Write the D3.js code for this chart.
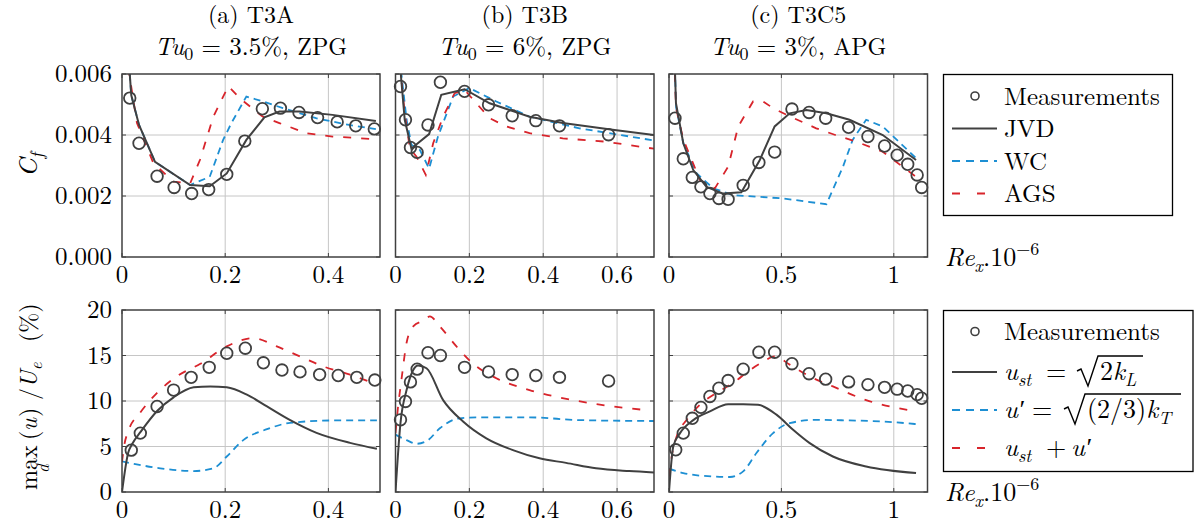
<!DOCTYPE html>
<html>
<head>
<meta charset="utf-8">
<script src="https://cdn.jsdelivr.net/npm/d3@7"></script>
<style>
  body { margin: 0; background: #fff; }
</style>
</head>
<body>
<div id="svgdiv"></div>
<script>
// ---- data: [Re_x * 1e-6, value] ----
// (a) T3A, skin friction
var t3aCfMeas = [[0.015,0.00521],[0.033,0.00373],[0.068,0.00265],[0.101,0.00228],[0.135,0.00208],[0.168,0.00221],[0.203,0.00271],[0.238,0.0038],[0.272,0.00486],[0.307,0.00488],[0.343,0.00474],[0.379,0.00457],[0.417,0.00443],[0.453,0.0043],[0.489,0.0042]];
var t3aCfJVD = [[0.012,0.0068],[0.015,0.006],[0.018,0.0053],[0.033,0.00433],[0.064,0.00312],[0.132,0.00236],[0.170,0.00232],[0.203,0.00274],[0.241,0.00384],[0.276,0.00458],[0.305,0.00477],[0.344,0.00477],[0.408,0.00466],[0.492,0.00446]];
var t3aCfWC = [[0.012,0.0068],[0.015,0.006],[0.018,0.0053],[0.033,0.00433],[0.064,0.00312],[0.132,0.00236],[0.170,0.00263],[0.196,0.00384],[0.212,0.00439],[0.241,0.00526],[0.273,0.0051],[0.312,0.00488],[0.376,0.00455],[0.44,0.00433],[0.492,0.00419]];
var t3aCfAGS = [[0.012,0.0068],[0.014,0.006],[0.029,0.00439],[0.061,0.00307],[0.1,0.00247],[0.132,0.00241],[0.151,0.00318],[0.177,0.0046],[0.206,0.0056],[0.228,0.00521],[0.273,0.0046],[0.305,0.00439],[0.357,0.00406],[0.408,0.00395],[0.492,0.00386]];
// (a) T3A, max velocity fluctuation (%)
var t3aUMeas = [[0.018,4.6],[0.0355,6.47],[0.068,9.4],[0.1,11.2],[0.134,12.6],[0.169,13.7],[0.203,15.25],[0.239,15.8],[0.274,14.2],[0.31,13.4],[0.345,13.2],[0.383,12.9],[0.419,12.8],[0.455,12.6],[0.49,12.3]];
var t3aUst = [[0,0],[0.012,4.3],[0.02,5.3],[0.036,6.6],[0.068,8.9],[0.1,10.4],[0.139,11.5],[0.171,11.6],[0.203,11.5],[0.242,10.7],[0.281,9.4],[0.326,7.9],[0.377,6.5],[0.442,5.4],[0.494,4.75]];
var t3aUp = [[0,3.36],[0.023,3.1],[0.074,2.6],[0.139,2.3],[0.177,2.6],[0.203,3.9],[0.235,5.7],[0.281,6.9],[0.326,7.6],[0.41,7.86],[0.494,7.86]];
var t3aUsum = [[0,3.3],[0.004,5.0],[0.013,6.8],[0.035,8.7],[0.068,10.9],[0.106,12.7],[0.152,14.1],[0.203,16.0],[0.255,16.9],[0.3,16.0],[0.345,14.9],[0.39,13.8],[0.442,12.9],[0.494,11.8]];

// (b) T3B
var t3bCfMeas = [[0.0135,0.00559],[0.027,0.0045],[0.0405,0.00359],[0.0586,0.00343],[0.088,0.00433],[0.1216,0.00573],[0.187,0.00543],[0.252,0.00499],[0.316,0.00463],[0.38,0.00447],[0.444,0.0043],[0.577,0.00401]];
var t3bCfJVD = [[0.012,0.0065],[0.015,0.0059],[0.025,0.0045],[0.043,0.00356],[0.091,0.00403],[0.124,0.00532],[0.187,0.0055],[0.255,0.00504],[0.363,0.0046],[0.453,0.00439],[0.588,0.00417],[0.7,0.004]];
var t3bCfWC = [[0.013,0.0065],[0.016,0.006],[0.03,0.0045],[0.043,0.00368],[0.066,0.00351],[0.091,0.0029],[0.115,0.00395],[0.156,0.00526],[0.2,0.00554],[0.273,0.0051],[0.363,0.0046],[0.498,0.00422],[0.7,0.00382]];
var t3bCfAGS = [[0.012,0.0063],[0.025,0.0047],[0.039,0.00356],[0.057,0.00329],[0.082,0.00269],[0.102,0.00373],[0.129,0.0046],[0.16,0.00537],[0.187,0.00548],[0.219,0.00504],[0.255,0.00455],[0.3,0.00428],[0.363,0.00406],[0.453,0.00389],[0.57,0.00378],[0.7,0.00355]];
var t3bUMeas = [[0.0135,7.93],[0.027,9.95],[0.0405,12.1],[0.0586,13.5],[0.088,15.3],[0.1216,15.0],[0.187,13.7],[0.252,13.2],[0.316,12.9],[0.38,12.8],[0.444,12.6],[0.577,12.2]];
var t3bUst = [[0,0],[0.0135,7.6],[0.03,11.2],[0.048,13.4],[0.061,13.9],[0.084,13.6],[0.129,10.1],[0.183,7.75],[0.246,5.9],[0.318,4.6],[0.39,3.7],[0.462,3.2],[0.543,2.6],[0.633,2.3],[0.7,2.15]];
var t3bUp = [[0,6.3],[0.03,5.7],[0.057,5.3],[0.088,5.7],[0.12,7.0],[0.174,8.1],[0.228,8.2],[0.363,8.2],[0.498,7.9],[0.7,7.8]];
var t3bUsum = [[0,6.5],[0.007,9.4],[0.016,12.3],[0.03,16.4],[0.048,18.2],[0.079,18.9],[0.093,19.3],[0.12,18.2],[0.165,16.0],[0.21,14.1],[0.273,12.5],[0.363,11.2],[0.48,10.1],[0.588,9.4],[0.68,9.0]];

// (c) T3C5
var t3cCfMeas = [[0.0266,0.00455],[0.0636,0.00322],[0.1036,0.00261],[0.142,0.0023],[0.182,0.00208],[0.222,0.00192],[0.263,0.00189],[0.33,0.00235],[0.4,0.0031],[0.47,0.00344],[0.547,0.00485],[0.623,0.00474],[0.697,0.00455],[0.799,0.00425],[0.885,0.00395],[0.959,0.00364],[1.015,0.00334],[1.062,0.00304],[1.104,0.00269],[1.124,0.00228]];
var t3cCfJVD = [[0.026,0.0066],[0.027,0.006],[0.031,0.00504],[0.0636,0.00373],[0.108,0.00285],[0.167,0.0023],[0.241,0.00208],[0.322,0.00212],[0.404,0.00318],[0.47,0.00428],[0.537,0.00471],[0.611,0.00482],[0.7,0.00471],[0.803,0.0045],[0.951,0.004],[1.099,0.00318]];
var t3cCfWC = [[0.026,0.0066],[0.027,0.006],[0.032,0.0049],[0.0636,0.00373],[0.123,0.00274],[0.197,0.00225],[0.286,0.00203],[0.507,0.00192],[0.7,0.00173],[0.774,0.00296],[0.817,0.00384],[0.877,0.0045],[0.951,0.00428],[1.099,0.00324]];
var t3cCfAGS = [[0.025,0.0066],[0.026,0.006],[0.031,0.0049],[0.0636,0.00385],[0.138,0.00252],[0.204,0.00225],[0.263,0.00296],[0.308,0.00428],[0.374,0.0051],[0.419,0.0051],[0.463,0.00488],[0.537,0.00461],[0.655,0.00422],[0.74,0.004],[0.833,0.00378],[0.951,0.00345],[1.099,0.00263]];
var t3cUMeas = [[0.03,4.64],[0.0636,6.47],[0.1036,8.1],[0.142,9.3],[0.182,10.5],[0.222,11.4],[0.263,12.25],[0.33,13.5],[0.4,15.36],[0.47,15.36],[0.547,14.1],[0.623,13.0],[0.697,12.4],[0.799,12.1],[0.885,11.8],[0.959,11.5],[1.015,11.3],[1.062,11.1],[1.104,10.7],[1.124,10.3]];
var t3cUst = [[0,0],[0.019,5.0],[0.049,6.47],[0.108,7.9],[0.182,8.85],[0.263,9.65],[0.33,9.65],[0.396,9.58],[0.478,8.5],[0.552,6.84],[0.626,5.37],[0.729,3.9],[0.877,2.8],[1.099,2.08]];
var t3cUp = [[0,2.56],[0.0636,2.08],[0.138,1.8],[0.271,1.65],[0.33,2.27],[0.389,4.28],[0.463,6.47],[0.537,7.57],[0.655,7.93],[0.803,7.86],[0.951,7.75],[1.099,7.46]];
var t3cUsum = [[0,1.7],[0.012,3.9],[0.034,6.1],[0.078,7.9],[0.138,9.6],[0.212,10.9],[0.286,12.0],[0.36,13.4],[0.419,14.3],[0.47,14.9],[0.537,14.0],[0.626,12.7],[0.729,11.6],[0.877,10.1],[1.099,8.85]];

// axes
var xMax = [0.5, 0.7, 1.15];
var xTicks = [[0, 0.2, 0.4], [0, 0.2, 0.4, 0.6], [0, 0.5, 1]];
var cfTicks = [0, 0.002, 0.004, 0.006];
var uTicks = [0, 5, 10, 15, 20];
var caseNames = ["(a) T3A", "(b) T3B", "(c) T3C5"];
var caseTu = ["3.5%", "6%", "3%"];
var casePG = ["ZPG", "ZPG", "APG"];

var width = 1195, height = 524;
var GREY = "#404040", BLUE = "#1d8fd3", RED = "#d8242b";
function famList(names) {
  return names.map(function(f){ return "'" + f + "'"; }).join(", ") + ", monospace";
}
// Latin Modern is the serif face that reliably resolves here
var SERIF = famList(["Latin Modern Roman", "Liberation Serif"]);
var MATH = famList(["Latin Modern Roman", "Liberation Serif"]);

var svg = d3.select("#svgdiv").append("svg")
  .attr("width", width)
  .attr("height", height);

var cols = [[122, 380], [395.5, 654], [669, 927.5]];
var rows = [[74, 257], [310, 492]];

var cfData = [
  [t3aCfMeas, t3aCfJVD, t3aCfWC, t3aCfAGS],
  [t3bCfMeas, t3bCfJVD, t3bCfWC, t3bCfAGS],
  [t3cCfMeas, t3cCfJVD, t3cCfWC, t3cCfAGS]
];
var uData = [
  [t3aUMeas, t3aUst, t3aUp, t3aUsum],
  [t3bUMeas, t3bUst, t3bUp, t3bUsum],
  [t3cUMeas, t3cUst, t3cUp, t3cUsum]
];

// text helper: every text gets its family inline
function txt(parent, x, y, size, fam, italic) {
  var t = parent.append("text").attr("x", x).attr("y", y)
    .style("font-family", fam).style("font-size", size + "px")
    .attr("fill", "#000");
  if (italic) t.style("font-style", "italic");
  return t;
}
function span(t, s, size, italic, dy, fam) {
  var ts = t.append("tspan").text(s);
  if (size) ts.style("font-size", size + "px");
  if (italic) ts.style("font-style", "italic");
  if (dy) ts.attr("dy", dy);
  if (fam) ts.style("font-family", fam);
  return ts;
}

function drawPanel(ci, ri, yMax, yTicks, yFmt, sets, curve) {
  var x = d3.scaleLinear().domain([0, xMax[ci]]).range(cols[ci]);
  var y = d3.scaleLinear().domain([0, yMax]).range([rows[ri][1], rows[ri][0]]);
  var g = svg.append("g");
  var id = "clip" + ci + ri;

  g.append("clipPath").attr("id", id).append("rect")
    .attr("x", cols[ci][0]).attr("y", rows[ri][0])
    .attr("width", cols[ci][1] - cols[ci][0])
    .attr("height", rows[ri][1] - rows[ri][0]);

  // grid
  g.selectAll(".gx").data(xTicks[ci].filter(function(d){ return d > 0; })).enter()
    .append("line")
    .attr("x1", function(d){ return x(d); }).attr("x2", function(d){ return x(d); })
    .attr("y1", rows[ri][0]).attr("y2", rows[ri][1])
    .attr("stroke", "#c6c6c6").attr("stroke-width", 1);
  g.selectAll(".gy").data(yTicks.filter(function(d){ return d > 0 && d < yMax; })).enter()
    .append("line")
    .attr("y1", function(d){ return y(d); }).attr("y2", function(d){ return y(d); })
    .attr("x1", cols[ci][0]).attr("x2", cols[ci][1])
    .attr("stroke", "#c6c6c6").attr("stroke-width", 1);

  // inner tick marks on all sides
  var tl = 4;
  xTicks[ci].forEach(function(t){
    g.append("line").attr("x1", x(t)).attr("x2", x(t))
      .attr("y1", rows[ri][1]).attr("y2", rows[ri][1] - tl).attr("stroke", GREY).attr("stroke-width", 1);
    g.append("line").attr("x1", x(t)).attr("x2", x(t))
      .attr("y1", rows[ri][0]).attr("y2", rows[ri][0] + tl).attr("stroke", GREY).attr("stroke-width", 1);
  });
  yTicks.forEach(function(t){
    g.append("line").attr("y1", y(t)).attr("y2", y(t))
      .attr("x1", cols[ci][0]).attr("x2", cols[ci][0] + tl).attr("stroke", GREY).attr("stroke-width", 1);
    g.append("line").attr("y1", y(t)).attr("y2", y(t))
      .attr("x1", cols[ci][1]).attr("x2", cols[ci][1] - tl).attr("stroke", GREY).attr("stroke-width", 1);
  });

  var line = d3.line().x(function(d){ return x(d[0]); }).y(function(d){ return y(d[1]); }).curve(curve);
  var plot = g.append("g").attr("clip-path", "url(#" + id + ")");

  plot.append("path").datum(sets[2]).attr("d", line).attr("fill", "none")
    .attr("stroke", BLUE).attr("stroke-width", 1.8).attr("stroke-dasharray", "7,5");
  plot.append("path").datum(sets[3]).attr("d", line).attr("fill", "none")
    .attr("stroke", RED).attr("stroke-width", 1.8).attr("stroke-dasharray", "8,10");
  plot.append("path").datum(sets[1]).attr("d", line).attr("fill", "none")
    .attr("stroke", GREY).attr("stroke-width", 2);

  g.selectAll(".m").data(sets[0]).enter().append("circle")
    .attr("cx", function(d){ return x(d[0]); })
    .attr("cy", function(d){ return y(d[1]); })
    .attr("r", 5.8)
    .attr("fill", "none").attr("stroke", GREY).attr("stroke-width", 1.8);

  // frame
  g.append("rect")
    .attr("x", cols[ci][0]).attr("y", rows[ri][0])
    .attr("width", cols[ci][1] - cols[ci][0])
    .attr("height", rows[ri][1] - rows[ri][0])
    .attr("fill", "none").attr("stroke", GREY).attr("stroke-width", 1.5);

  // tick labels
  xTicks[ci].forEach(function(d){
    txt(g, x(d), rows[ri][1] + 26, 25, MATH).attr("text-anchor", "middle")
      .text(d === 0 ? "0" : d3.format("")(d));
  });
  if (ci === 0) {
    yTicks.forEach(function(d){
      txt(g, cols[0][0] - 10, y(d) + 8, 25, MATH).attr("text-anchor", "end").text(yFmt(d));
    });
  }
}

for (var i = 0; i < 3; i++) {
  drawPanel(i, 0, 0.006, cfTicks, d3.format(".3f"), cfData[i], d3.curveLinear);
  drawPanel(i, 1, 20, uTicks, d3.format("d"), uData[i], d3.curveMonotoneX);
}

// titles
for (var i = 0; i < 3; i++) {
  var cx = (cols[i][0] + cols[i][1]) / 2;
  txt(svg, cx, 23, 24, SERIF).attr("text-anchor", "middle").text(caseNames[i]);
  var t = txt(svg, cx, 55, 25, MATH).attr("text-anchor", "middle");
  span(t, "Tu", null, true);
  span(t, "0", 18, false, 5);
  span(t, " = " + caseTu[i] + ", ", null, false, -5);
  span(t, casePG[i], 24, false, null, SERIF);
}

// y axis labels
var cfl = txt(svg, 0, 0, 26, MATH, true)
  .attr("transform", "translate(37,165) rotate(-90)")
  .attr("text-anchor", "middle");
span(cfl, "C");
span(cfl, "f", 18, true, 6);

var ul = svg.append("g").attr("transform", "translate(37,0) rotate(-90)");
txt(ul, -490, 0, 24, MATH).text("max");
txt(ul, -473, 12, 17, MATH, true).text("d");
txt(ul, -440, 0, 24, MATH).text("(");
txt(ul, -431, 0, 24, MATH, true).text("u");
txt(ul, -417, 0, 24, MATH).text(")");
txt(ul, -400, 0, 24, MATH).text("/");
var ue = txt(ul, -388, 0, 24, MATH, true);
span(ue, "U");
span(ue, "e", 17, true, 5);
txt(ul, -342, 0, 24, MATH).text("(%)");

// Re_x label
function rexLabel(yb) {
  var t = txt(svg, 945, yb, 26, MATH);
  span(t, "Re", null, true);
  span(t, "x", 18, true, 6);
  span(t, ".10", null, false, -6);
  span(t, "\u22126", 18, false, -11);
}
rexLabel(266);
rexLabel(501);

// legends
function legendSample(kind, yc) {
  if (kind === 0) {
    svg.append("circle").attr("cx", 975).attr("cy", yc).attr("r", 4)
      .attr("fill", "none").attr("stroke", GREY).attr("stroke-width", 1.6);
  } else {
    var s = [null, [GREY, null, 2], [BLUE, "8,6", 1.8], [RED, "8,17", 1.8]][kind];
    svg.append("line").attr("x1", 952).attr("x2", 997).attr("y1", yc).attr("y2", yc)
      .attr("stroke", s[0]).attr("stroke-width", s[2]).attr("stroke-dasharray", s[1]);
  }
}

svg.append("rect").attr("x", 943.5).attr("y", 74.5).attr("width", 229).attr("height", 141)
  .attr("fill", "#fff").attr("stroke", "#000").attr("stroke-width", 1.3);
var topNames = ["Measurements", "JVD", "WC", "AGS"];
var topY = [96, 128.5, 161, 193.5];
topNames.forEach(function(n, k){
  legendSample(k, topY[k]);
  txt(svg, 1004, topY[k] + 8.5, 25, SERIF).text(n);
});

svg.append("rect").attr("x", 943.5).attr("y", 310.5).attr("width", 249.5).attr("height", 161)
  .attr("fill", "#fff").attr("stroke", "#000").attr("stroke-width", 1.3);
var botY = [331.5, 372, 410, 448];
botY.forEach(function(yc, k){ legendSample(k, yc); });
txt(svg, 1004, botY[0] + 8.5, 25, SERIF).text("Measurements");

function ust(xp, yb) {
  var t = txt(svg, xp, yb, 26, MATH, true);
  span(t, "u");
  span(t, "st", 18, true, 6);
}
function uprime(xp, yb) {
  var t = txt(svg, xp, yb, 26, MATH, true);
  span(t, "u");
  span(t, "\u2032", null, false);
}
function radical(x0, x1, yb) {
  svg.append("path")
    .attr("d", "M" + x0 + "," + (yb - 9) + " L" + (x0 + 4) + "," + (yb - 11) +
      " L" + (x0 + 11) + "," + (yb + 6) + " L" + (x0 + 21) + "," + (yb - 24) + " L" + x1 + "," + (yb - 24))
    .attr("fill", "none").attr("stroke", "#000").attr("stroke-width", 1.4);
}

// u_st = sqrt(2 k_L)
var b2 = botY[1] + 8;
ust(1004, b2);
txt(svg, 1046, b2, 26, MATH).text("=");
radical(1077, 1143, b2);
var r2 = txt(svg, 1100, b2, 26, MATH);
span(r2, "2");
span(r2, "k", null, true);
span(r2, "L", 18, true, 6);

// u' = sqrt((2/3) k_T)
var b3 = botY[2] + 8;
uprime(1004, b3);
txt(svg, 1032, b3, 26, MATH).text("=");
radical(1064, 1181, b3);
var r3 = txt(svg, 1087, b3, 26, MATH);
span(r3, "(2/3)");
span(r3, "k", null, true);
span(r3, "T", 18, true, 6);

// u_st + u'
var b4 = botY[3] + 8;
ust(1004, b4);
txt(svg, 1046, b4, 26, MATH).text("+");
uprime(1071, b4);
</script>
</body>
</html>
